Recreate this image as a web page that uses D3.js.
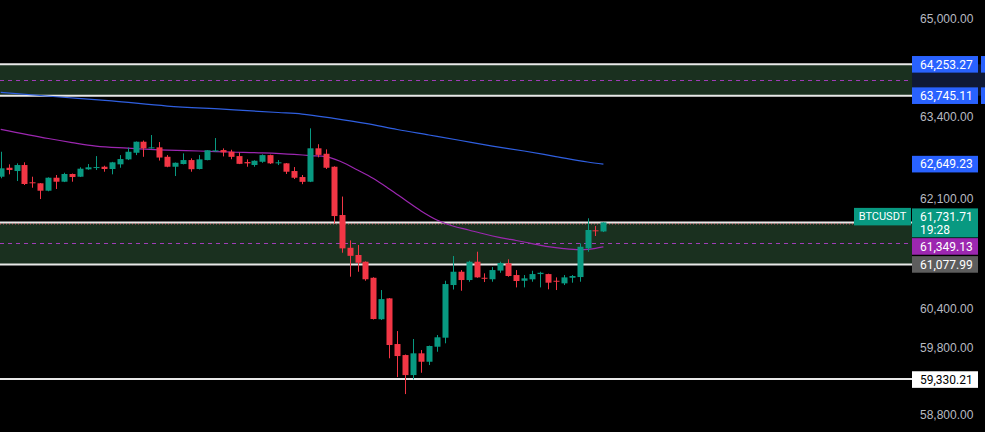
<!DOCTYPE html>
<html>
<head>
<meta charset="utf-8">
<script src="https://cdn.jsdelivr.net/npm/d3@7"></script>
<style>
  html, body { margin: 0; padding: 0; background: #000; }
  svg { display: block; font-family: Roboto, "Noto Sans", sans-serif; }
</style>
</head>
<body>
<svg id="chart" width="985" height="432"></svg>
<script>
// BTCUSDT candles, one per bar
const opens = [62450, 62592, 62540, 62635, 62362, 62346, 62229, 62434, 62371, 62493,
  62450, 62567, 62592, 62608, 62572, 62646, 62725, 62830, 63006, 62900,
  62916, 62766, 62608, 62651, 62714, 62572, 62714, 62852, 62873, 62846,
  62777, 62682, 62635, 62687, 62793, 62667, 62662, 62540, 62445, 62371,
  62901, 62814, 62608, 61847, 61336, 61224, 61120, 60872, 60236, 60555,
  59859, 59692, 59390, 59718, 59591, 59818, 59955, 60760, 60965, 60837,
  61120, 60872, 60849, 60983, 61095, 60914, 60826, 60848, 60929, 60929,
  60826, 60786, 60872, 60883, 61327, 61608, 61590];
const highs = [62846, 62646, 62662, 62678, 62450, 62350, 62440, 62477, 62513, 62500,
  62599, 62651, 62777, 62624, 62685, 62793, 62913, 63010, 63025, 63113,
  63001, 62793, 62675, 62820, 62741, 62793, 62873, 63065, 62900, 62878,
  62836, 62725, 62710, 62804, 62800, 62714, 62667, 62603, 62477, 63220,
  62966, 62884, 62615, 62137, 61451, 61379, 61125, 60880, 60683, 60560,
  60056, 59700, 59935, 59768, 59835, 59996, 60826, 61208, 60991, 61135,
  61275, 60940, 61037, 61120, 61157, 60991, 60914, 60980, 60965, 60935,
  60878, 60914, 60914, 61405, 61796, 61675, 61731.71];
const lows = [62425, 62488, 62382, 62319, 62276, 62098, 62220, 62256, 62365, 62371,
  62445, 62560, 62556, 62529, 62488, 62592, 62714, 62793, 62766, 62895,
  62706, 62600, 62461, 62645, 62529, 62565, 62710, 62845, 62772, 62727,
  62650, 62608, 62608, 62671, 62651, 62635, 62493, 62414, 62332, 62365,
  62757, 62572, 61714, 61259, 60888, 60965, 60826, 60232, 60224, 59643,
  59360, 59105, 59325, 59425, 59541, 59742, 59870, 60691, 60672, 60811,
  60872, 60806, 60811, 60949, 60888, 60724, 60724, 60811, 60724, 60694,
  60683, 60760, 60796, 60811, 61275, 61519, 61581];
const closes = [62583, 62556, 62635, 62335, 62346, 62229, 62434, 62371, 62493, 62445,
  62577, 62599, 62603, 62572, 62678, 62730, 62846, 63006, 62900, 62916,
  62754, 62608, 62671, 62714, 62569, 62725, 62870, 62868, 62836, 62765,
  62654, 62662, 62703, 62793, 62662, 62678, 62529, 62434, 62369, 62901,
  62796, 62592, 61831, 61327, 61211, 61104, 60849, 60239, 60544, 59844,
  59677, 59390, 59718, 59591, 59829, 59961, 60775, 60965, 60837, 61120,
  60878, 60860, 60991, 61100, 60899, 60822, 60863, 60929, 60949, 60796,
  60817, 60878, 60899, 61352, 61613, 61597, 61731.71];

// moving averages, sampled at some bar indices
const slowMaIndex = [0, 7, 14, 21, 28, 35, 38, 42, 46, 50, 54, 58, 62, 66, 70, 74, 76];
const slowMaValues = [63799, 63728, 63660, 63578, 63527, 63474, 63449, 63380, 63300, 63201,
  63113, 63025, 62937, 62858, 62770, 62683, 62649.23];
const fastMaIndex = [0, 6, 9, 12, 16, 21, 25, 29, 33, 37, 39, 41, 43, 45, 47, 49, 51, 53,
  55, 57, 59, 61, 63, 65, 67, 69, 71, 73, 74, 75, 76];
const fastMaValues = [63204, 63057, 62993, 62937, 62905, 62873, 62858, 62842, 62829, 62805,
  62786, 62770, 62683, 62556, 62421, 62256, 62082, 61910, 61769, 61675, 61613, 61550,
  61495, 61449, 61402, 61355, 61324, 61308, 61311, 61327, 61349.13];

// price zones (top, bottom) and the support level
const zoneTops = [64253.27, 61731.71];
const zoneBottoms = [63745.11, 61077.99];
const supportLevel = 59330.21;

// price scale ticks
const tickValues = [65000, 63400, 62100, 60400, 59800, 58800];

const symbol = 'BTCUSDT';
const lastPrice = 61731.71;
const countdown = '19:28';

const width = 985;
const height = 432;
const plotRight = 912;

const green = '#089981';
const red = '#f23645';

const candles = opens.map((o, i) => ({ i, o, h: highs[i], l: lows[i], c: closes[i] }));

// scales: bar index -> x, log price -> y
const x = d3.scaleLinear().domain([0, 76]).range([0.7, 603.4]);
const y = d3.scaleLog().domain([58800, 65000]).range([414.5, 18.7]);

const svg = d3.select('#chart');

svg.append('rect')
  .attr('width', width)
  .attr('height', height)
  .attr('fill', '#000');

// zones
const zones = zoneTops.map((t, k) => ({ t, b: zoneBottoms[k] }));

svg.selectAll('.zone')
  .data(zones)
  .enter()
  .append('rect')
  .attr('x', 0)
  .attr('y', (d) => y(d.t))
  .attr('width', plotRight)
  .attr('height', (d) => y(d.b) - y(d.t))
  .attr('fill', '#1a301f');

svg.selectAll('.mid')
  .data(zones)
  .enter()
  .append('line')
  .attr('x1', 0)
  .attr('x2', plotRight)
  .attr('y1', (d) => Math.round(y((d.t + d.b) / 2)) + 0.5)
  .attr('y2', (d) => Math.round(y((d.t + d.b) / 2)) + 0.5)
  .attr('stroke', '#a03cb8')
  .attr('stroke-width', 1)
  .attr('stroke-dasharray', '4,4');

const edges = zoneTops.concat(zoneBottoms, [supportLevel]);
svg.selectAll('.edge')
  .data(edges)
  .enter()
  .append('line')
  .attr('x1', 0)
  .attr('x2', plotRight)
  .attr('y1', (d) => y(d))
  .attr('y2', (d) => y(d))
  .attr('stroke', '#e8e8e8')
  .attr('stroke-width', 2);

// last price dotted line
svg.append('line')
  .attr('x1', 0)
  .attr('x2', plotRight)
  .attr('y1', y(lastPrice) + 1.5)
  .attr('y2', y(lastPrice) + 1.5)
  .attr('stroke', '#f26d7d')
  .attr('stroke-width', 1)
  .attr('stroke-dasharray', '1,2');

// moving averages
const line = d3.line()
  .x((d) => x(d[0]))
  .y((d) => y(d[1]))
  .curve(d3.curveMonotoneX);

svg.append('path')
  .attr('d', line(slowMaIndex.map((v, k) => [v, slowMaValues[k]])))
  .attr('fill', 'none')
  .attr('stroke', '#2f5fe0')
  .attr('stroke-width', 1.2);

svg.append('path')
  .attr('d', line(fastMaIndex.map((v, k) => [v, fastMaValues[k]])))
  .attr('fill', 'none')
  .attr('stroke', '#9c27b0')
  .attr('stroke-width', 1.2);

// candles
const g = svg.append('g');

g.selectAll('.wick')
  .data(candles)
  .enter()
  .append('line')
  .attr('x1', (d) => Math.round(x(d.i)) + 0.5)
  .attr('x2', (d) => Math.round(x(d.i)) + 0.5)
  .attr('y1', (d) => y(d.h))
  .attr('y2', (d) => y(d.l))
  .attr('stroke', (d) => (d.c >= d.o ? green : red))
  .attr('stroke-width', 1);

g.selectAll('.body')
  .data(candles)
  .enter()
  .append('rect')
  .attr('x', (d) => Math.round(x(d.i)) - 2.5)
  .attr('y', (d) => y(Math.max(d.o, d.c)))
  .attr('width', 6)
  .attr('height', (d) => Math.max(1, Math.abs(y(d.o) - y(d.c))))
  .attr('fill', (d) => (d.c >= d.o ? green : red));

// price axis
const axis = svg.append('g')
  .attr('transform', `translate(${plotRight},0)`)
  .call(d3.axisRight(y)
    .tickValues(tickValues)
    .tickFormat(d3.format(',.2f'))
    .tickSize(0)
    .tickPadding(8));

axis.select('.domain').remove();
axis.selectAll('text')
  .attr('fill', '#b8bbc2')
  .style('font-size', '12px');

// zone highlight on the axis
svg.append('rect')
  .attr('x', plotRight)
  .attr('y', y(zoneTops[0]))
  .attr('width', width - plotRight)
  .attr('height', y(zoneBottoms[0]) - y(zoneTops[0]))
  .attr('fill', '#0f1936');

// price badges
const badges = [
  { v: zoneTops[0], fill: '#2962ff', text: '#fff', dy: 0 },
  { v: zoneBottoms[0], fill: '#2962ff', text: '#fff', dy: 0 },
  { v: slowMaValues[slowMaValues.length - 1], fill: '#2962ff', text: '#fff', dy: 0 },
  { v: fastMaValues[fastMaValues.length - 1], fill: '#9c27b0', text: '#fff', dy: -0.5 },
  { v: zoneBottoms[1], fill: '#5d5d5d', text: '#fff', dy: 0 },
  { v: supportLevel, fill: '#ffffff', text: '#000', dy: 0.5 }
];

badges.forEach((b) => {
  const cy = y(b.v) + b.dy;
  svg.append('rect')
    .attr('x', plotRight)
    .attr('y', cy - 8.3)
    .attr('width', 66)
    .attr('height', 16.6)
    .attr('fill', b.fill);
  svg.append('text')
    .attr('x', 920)
    .attr('y', cy)
    .attr('dy', '0.35em')
    .attr('fill', b.text)
    .style('font-size', '12px')
    .text(d3.format(',.2f')(b.v));
});

// small markers at the right edge for the blue zone badges
[zoneTops[0], zoneBottoms[0]].forEach((v) => {
  svg.append('rect')
    .attr('x', 981)
    .attr('y', y(v) - 8.3)
    .attr('width', 4)
    .attr('height', 16.6)
    .attr('fill', '#2962ff');
});

// last price badge with countdown
const py = y(lastPrice);
svg.append('rect')
  .attr('x', plotRight)
  .attr('y', py - 14)
  .attr('width', 66)
  .attr('height', 29)
  .attr('fill', green);
svg.append('text')
  .attr('x', 920)
  .attr('y', py - 6)
  .attr('dy', '0.35em')
  .attr('fill', '#fff')
  .style('font-size', '12px')
  .text(d3.format(',.2f')(lastPrice));
svg.append('text')
  .attr('x', 920)
  .attr('y', py + 7.5)
  .attr('dy', '0.35em')
  .attr('fill', '#fff')
  .style('font-size', '12px')
  .text(countdown);

// symbol tag
svg.append('rect')
  .attr('x', 854)
  .attr('y', py - 14.5)
  .attr('width', 57)
  .attr('height', 17.5)
  .attr('fill', green);
svg.append('text')
  .attr('x', 882.5)
  .attr('y', py - 5.8)
  .attr('dy', '0.35em')
  .attr('text-anchor', 'middle')
  .attr('fill', '#fff')
  .style('font-size', '11px')
  .text(symbol);
</script>
</body>
</html>
